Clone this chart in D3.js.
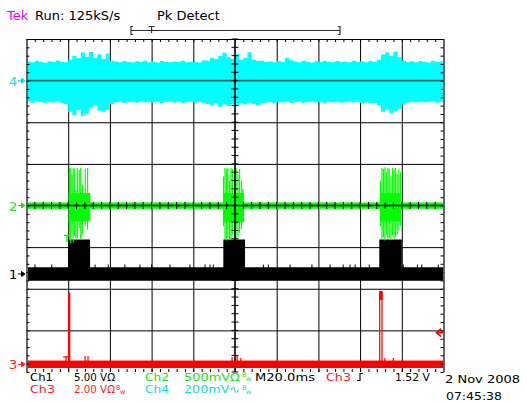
<!DOCTYPE html>
<html>
<head>
<meta charset="utf-8">
<script src="https://cdn.jsdelivr.net/npm/d3@7/dist/d3.min.js"></script>
<style>
  html, body { margin: 0; padding: 0; background: #fff; }
  svg { display: block; }
  text { font-family: "DejaVu Sans", sans-serif; }
</style>
</head>
<body>
<svg id="scope" width="527" height="402"></svg>
<script>
// ---------------- acquisition / time base ----------------
const timeMajor = [0, 20, 40, 60, 80, 100, 120, 140, 160, 180, 200];   // ms, 20 ms/div
const divMajor = [-4, -3, -2, -1, 0, 1, 2, 3, 4];                        // vertical divisions

// ---------------- Channel 4 (200 mV/div): peak-detect envelope, one pair per 2 ms, in mV ----
const ch4Times = d3.range(0, 201, 2);
const ch4Max = [
  92, 88, 95, 90, 86, 93, 89, 97, 90, 88,
  100, 120, 108, 135, 115, 138, 110, 125, 104, 130,
  96, 92, 88, 94, 90, 87, 93, 89, 96, 88,
  91, 87, 94, 90, 88, 92, 89, 95, 88, 91,
  90, 87, 98, 95, 110, 104, 118, 134, 112, 104,
  128, 100, 110, 136, 100, 95, 96, 90, 92, 88,
  94, 89, 110, 98, 92, 88, 95, 90, 87, 93,
  89, 96, 90, 88, 94, 89, 92, 88, 95, 90,
  92, 88, 95, 90, 100, 125, 135, 118, 138, 112,
  96, 90, 93, 88, 94, 90, 87, 95, 89, 92,
  90
];
const ch4Min = [
  -100, -106, -98, -104, -108, -101, -105, -99, -107, -112,
  -150, -165, -140, -170, -155, -130, -120, -145, -150, -140,
  -112, -104, -100, -108, -103, -101, -106, -99, -104, -102,
  -105, -100, -107, -102, -99, -105, -101, -108, -103, -100,
  -106, -102, -108, -112, -118, -110, -125, -115, -122, -112,
  -120, -108, -115, -106, -112, -118, -110, -106, -104, -110,
  -101, -105, -99, -107, -102, -100, -106, -102, -99, -105,
  -102, -108, -101, -104, -100, -106, -102, -99, -105, -102,
  -107, -104, -110, -108, -118, -150, -140, -155, -148, -135,
  -115, -106, -101, -105, -100, -104, -102, -99, -106, -102,
  -104
];

// ---------------- Channel 1 (5 V/div): envelope breakpoints (ms, V) ----
const ch1Times = [0, 20.0, 30.5, 94.4, 104.8, 169.2, 180.0, 200];
const ch1Max   = [0.8, 4.14, 0.8, 4.14, 0.8, 4.14, 0.8, 0.8];
const ch1Min   = [-0.8, -0.8, -0.8, -0.8, -0.8, -0.8, -0.8, -0.8];
// isolated noise peaks above the baseline (ms)
const ch1PeakTimes = [4.1, 12.1, 32.9, 39.2, 47.2, 54.4, 60.0, 68.8, 78.4, 85.6, 88.0, 89.6,
  113.6, 116.0, 126.4, 136.9, 145.6, 151.9, 155.2, 157.6, 164.4, 180.7, 187.5, 189.6, 197.5];
const ch1PeakLevel = 1.14;

// ---------------- Channel 2 (500 mV/div): baseline envelope + burst spikes ----
const ch2Times = [0, 20.2, 30.6, 94.3, 104.3, 169.5, 179.8, 200];
const ch2Max   = [0.035, 0.15, 0.035, 0.15, 0.035, 0.15, 0.035, 0.035];
const ch2Min   = [-0.04, -0.19, -0.04, -0.2, -0.04, -0.19, -0.04, -0.04];
const ch2SpikeTimes = [
  20.6, 21.2, 21.8, 22.4, 23.1, 23.7, 24.4, 25.3, 26.0, 26.9, 28.2, 29.3, 30.2,
  94.5, 95.2, 95.9, 96.6, 97.4, 98.1, 98.8, 99.8, 100.5, 101.4, 102.2, 103.1, 103.8,
  169.8, 170.5, 171.2, 171.9, 172.6, 173.3, 174.0, 174.8, 175.5, 176.3, 177.0, 177.8, 178.6, 179.4
];
const ch2SpikeMax = [
  0.45, 0.45, 0.37, 0.45, 0.44, 0.19, 0.45, 0.43, 0.45, 0.25, 0.44, 0.45, 0.13,
  0.35, 0.45, 0.44, 0.45, 0.30, 0.45, 0.44, 0.43, 0.45, 0.38, 0.44, 0.30, 0.20,
  0.30, 0.45, 0.44, 0.46, 0.40, 0.45, 0.44, 0.35, 0.45, 0.43, 0.45, 0.38, 0.44, 0.40
];
const ch2SpikeMin = [
  -0.41, -0.45, -0.32, -0.44, -0.37, -0.41, -0.39, -0.27, -0.41, -0.35, -0.25, -0.29, -0.17,
  -0.25, -0.40, -0.42, -0.38, -0.41, -0.40, -0.35, -0.42, -0.40, -0.38, -0.33, -0.28, -0.20,
  -0.25, -0.40, -0.38, -0.42, -0.35, -0.40, -0.39, -0.41, -0.36, -0.40, -0.38, -0.35, -0.30, -0.25
];

// ---------------- Channel 3 (2 V/div): baseline band + pulses ----
const ch3BandMax = 0.18;
const ch3BandMin = -0.18;
const ch3PulseStart = [19.9, 169.1, 170.2, 169.1];
const ch3PulseEnd   = [21.0, 169.7, 170.8, 170.8];
const ch3PulseTop   = [3.44, 3.52, 3.48, 3.52];
const ch3PulseBase  = [0, 0, 0, 3.09];
const ch3BlipTimes  = [28.1, 29.5, 98.6, 101.0, 102.8, 171.9, 175.9];
const ch3BlipLevel  = [0.4, 0.4, 0.35, 0.4, 0.3, 0.3, 0.3];
const ch3TriggerLevel = 1.52;   // V

// ---------------- readout text ----------------
const headerText = ["Tek", "Run: 125kS/s", "Pk Detect"];
const dateText = ["2 Nov 2008", "07:45:38"];

// ---------------- layout ----------------
const svg = d3.select("#scope");
const gx0 = 26.5, gx1 = 443.5, gy0 = 39, gy1 = 372;
const x = d3.scaleLinear().domain([0, 200]).range([gx0, gx1]);
const yDiv = d3.scaleLinear().domain([-4, 4]).range([gy1, gy0]);
const chanScale = (offsetDiv, perDiv) =>
  d3.scaleLinear().domain([(-4 - offsetDiv) * perDiv, (4 - offsetDiv) * perDiv]).range([gy1, gy0]);

const y1 = chanScale(-1.646, 5);      // V
const y2 = chanScale(0, 0.5);         // V
const y3 = chanScale(-3.815, 2);      // V
const y4 = chanScale(3, 200);         // mV

const COL = { c1: "#000000", c2: "#00ff00", c3: "#ff0000", c4: "#00ffff", tek: "#ee00ee" };
const TXT = { c2: "#22dd22", c3: "#ff1a1a", c4: "#11d8d8" };

svg.append("rect").attr("width", 527).attr("height", 402).attr("fill", "#fff");

// ---------------- graticule (under the traces) ----------------
const grid = svg.append("g");
grid.append("g")
  .attr("transform", `translate(0,${gy0})`)
  .call(d3.axisTop(x).tickValues(timeMajor.filter(t => t > 0 && t < 200 && t !== 100))
    .tickSize(-(gy1 - gy0)).tickSizeOuter(0).tickFormat(""))
  .call(g => g.select(".domain").remove())
  .call(g => g.selectAll("line").attr("stroke", "#000").attr("stroke-width", 1));
grid.append("g")
  .attr("transform", `translate(${gx0},0)`)
  .call(d3.axisLeft(yDiv).tickValues(divMajor.filter(d => d !== 0 && Math.abs(d) !== 4))
    .tickSize(-(gx1 - gx0)).tickSizeOuter(0).tickFormat(""))
  .call(g => g.select(".domain").remove())
  .call(g => g.selectAll("line").attr("stroke", "#000").attr("stroke-width", 1));

// ---------------- area helper ----------------
function envelope(times, hi, lo, ys, color) {
  const data = times.map((t, i) => ({ t, hi: hi[i], lo: lo[i] }));
  svg.append("path")
    .datum(data)
    .attr("fill", color)
    .attr("d", d3.area().curve(d3.curveStepAfter)
      .x(d => x(d.t)).y0(d => ys(d.lo)).y1(d => ys(d.hi)));
}

// Channel 4
envelope(ch4Times, ch4Max, ch4Min, y4, COL.c4);
svg.append("line")
  .attr("x1", x(0)).attr("x2", x(200)).attr("y1", y4(0)).attr("y2", y4(0))
  .attr("stroke", "#006868").attr("stroke-width", 1.6);

// Channel 1
envelope(ch1Times, ch1Max, ch1Min, y1, COL.c1);
svg.append("g").selectAll("line").data(ch1PeakTimes).join("line")
  .attr("x1", d => x(d)).attr("x2", d => x(d))
  .attr("y1", y1(ch1PeakLevel)).attr("y2", y1(0.5))
  .attr("stroke", COL.c1).attr("stroke-width", 1);

// Channel 2
envelope(ch2Times, ch2Max, ch2Min, y2, COL.c2);
svg.append("g").selectAll("line").data(ch2SpikeTimes).join("line")
  .attr("x1", d => x(d)).attr("x2", d => x(d))
  .attr("y1", (d, i) => y2(ch2SpikeMax[i])).attr("y2", (d, i) => y2(ch2SpikeMin[i]))
  .attr("stroke", COL.c2).attr("stroke-width", 1.2);

// ---------------- centre cross with minor ticks ----------------
const cross = svg.append("g");
cross.append("line").attr("x1", gx0).attr("x2", gx1).attr("y1", yDiv(0)).attr("y2", yDiv(0))
  .attr("stroke", "#000").attr("stroke-width", 1.6);
cross.append("line").attr("x1", x(100)).attr("x2", x(100)).attr("y1", gy0).attr("y2", gy1)
  .attr("stroke", "#000").attr("stroke-width", 1.6);
const minorT = d3.range(0, 201, 4);
const minorD = d3.range(-4, 4.01, 0.2);
cross.append("g").selectAll("line").data(minorT).join("line")
  .attr("x1", d => x(d)).attr("x2", d => x(d))
  .attr("y1", yDiv(0) - 3.5).attr("y2", yDiv(0) + 3.5)
  .attr("stroke", "#000").attr("stroke-width", 1);
cross.append("g").selectAll("line").data(minorD).join("line")
  .attr("y1", d => yDiv(d)).attr("y2", d => yDiv(d))
  .attr("x1", x(100) - 3.5).attr("x2", x(100) + 3.5)
  .attr("stroke", "#000").attr("stroke-width", 1);

// Channel 3
svg.append("rect")
  .attr("x", x(0)).attr("width", x(200) - x(0))
  .attr("y", y3(ch3BandMax)).attr("height", y3(ch3BandMin) - y3(ch3BandMax))
  .attr("fill", COL.c3);
svg.append("g").selectAll("rect").data(ch3PulseStart).join("rect")
  .attr("x", d => x(d)).attr("width", (d, i) => x(ch3PulseEnd[i]) - x(d))
  .attr("y", (d, i) => y3(ch3PulseTop[i]))
  .attr("height", (d, i) => y3(ch3PulseBase[i]) - y3(ch3PulseTop[i]))
  .attr("fill", COL.c3);
svg.append("g").selectAll("line").data(ch3BlipTimes).join("line")
  .attr("x1", d => x(d)).attr("x2", d => x(d))
  .attr("y1", (d, i) => y3(ch3BlipLevel[i])).attr("y2", y3(0))
  .attr("stroke", COL.c3).attr("stroke-width", 1.2);

// trigger point marks on channels 2 and 3
function tMark(t, yv, color) {
  const px = x(t);
  svg.append("path")
    .attr("d", `M${px - 3},${yv} H${px + 3} M${px},${yv} V${yv + 7}`)
    .attr("stroke", color).attr("stroke-width", 1.3).attr("fill", "none");
}
tMark(19.4, y2(-0.36), COL.c2);
tMark(19.0, y3(0.36), COL.c3);

// ---------------- graticule edges ----------------
const edge = svg.append("g");
edge.append("g").attr("transform", `translate(0,${gy0})`)
  .call(d3.axisBottom(x).tickValues(minorT).tickSize(3).tickSizeOuter(0).tickFormat(""));
edge.append("g").attr("transform", `translate(0,${gy1})`)
  .call(d3.axisTop(x).tickValues(minorT).tickSize(3).tickSizeOuter(0).tickFormat(""))
  .call(g => g.select(".domain").remove());
edge.append("g").attr("transform", `translate(${gx0},0)`)
  .call(d3.axisRight(yDiv).tickValues(minorD).tickSize(3).tickSizeOuter(0).tickFormat(""))
  .call(g => g.select(".domain").attr("stroke", "#666").attr("stroke-width", 2));
edge.append("g").attr("transform", `translate(${gx1},0)`)
  .call(d3.axisLeft(yDiv).tickValues(minorD).tickSize(3).tickSizeOuter(0).tickFormat(""))
  .call(g => g.select(".domain").attr("stroke", "#666").attr("stroke-width", 2));
edge.selectAll(".tick line").attr("stroke", "#000");
edge.selectAll(".domain").filter(function () { return !this.getAttribute("stroke-width"); })
  .attr("stroke", "#000");

// ---------------- channel ground markers ----------------
const markers = [
  { label: "4", y: y4(0), color: TXT.c4 },
  { label: "2", y: y2(0), color: TXT.c2 },
  { label: "1", y: y1(0), color: "#000" },
  { label: "3", y: y3(0), color: TXT.c3 }
];
const mk = svg.append("g").selectAll("g").data(markers).join("g");
mk.append("text").attr("x", 9).attr("y", d => d.y + 5).attr("font-size", 13)
  .attr("fill", d => d.color).text(d => d.label);
mk.append("path")
  .attr("d", d => `M18,${d.y} H22 M21.5,${d.y - 2.5} L25,${d.y} L21.5,${d.y + 2.5} Z`)
  .attr("stroke", d => d.color).attr("fill", d => d.color).attr("stroke-width", 1);

// trigger level marker (ch3)
const ty = y3(ch3TriggerLevel);
svg.append("path")
  .attr("d", `M441,${ty - 4} L436.5,${ty} L441,${ty + 4} M438,${ty} H443`)
  .attr("stroke", COL.c3).attr("stroke-width", 1.6).attr("fill", "none");

// ---------------- header ----------------
svg.append("text").attr("x", 7).attr("y", 20).attr("font-size", 13).attr("fill", COL.tek).text(headerText[0]);
svg.append("text").attr("x", 35).attr("y", 20).attr("font-size", 13).attr("fill", "#000").text(headerText[1]);
svg.append("text").attr("x", 157).attr("y", 20).attr("font-size", 13).attr("fill", "#000").text(headerText[2]);
// record view bracket with trigger position
const rv = svg.append("g").attr("stroke", "#333").attr("fill", "none").attr("stroke-width", 1.2);
rv.append("path").attr("d", "M133,26.5 H131 V34.5 H133 M131,30.5 H340 M338,26.5 H340 V34.5 H338");
rv.append("path").attr("d", `M${x(60) - 3},26.5 H${x(60) + 3} M${x(60)},26.5 V33`);

// ---------------- readout (wide display font: glyphs stretched to fixed widths) ----------------
const ro = svg.append("g").attr("font-size", 10.5);
function readout(xp, yp, str, color, width) {
  ro.append("text").attr("x", xp).attr("y", yp).attr("fill", color)
    .attr("textLength", width).attr("lengthAdjust", "spacingAndGlyphs").text(str);
}
function bwMark(xp, yp, color) {
  ro.append("text").attr("x", xp).attr("y", yp - 3.5).attr("font-size", 6.5).attr("fill", color).text("B");
  ro.append("text").attr("x", xp + 4).attr("y", yp + 0.5).attr("font-size", 6.5).attr("fill", color).text("w");
}
const r1 = 380.5, r2 = 393;
readout(30, r1, "Ch1", "#000", 23);
readout(74, r1, "5.00 VΩ", "#000", 41);
readout(145, r1, "Ch2", TXT.c2, 24);
readout(184, r1, "500mVΩ", TXT.c2, 56);
bwMark(242, r1, TXT.c2);
readout(255, r1, "M20.0ms", "#000", 60);
readout(326, r1, "Ch3", TXT.c3, 25);
svg.append("path").attr("d", "M357,380.5 H360 V373.5 H363").attr("stroke", "#000").attr("fill", "none").attr("stroke-width", 1.1);
readout(395, r1, "1.52 V", "#000", 35);
readout(30, r2, "Ch3", TXT.c3, 25);
readout(74, r2, "2.00 VΩ", TXT.c3, 41);
bwMark(116, r2, TXT.c3);
readout(145, r2, "Ch4", TXT.c4, 24);
readout(184, r2, "200mV∿", TXT.c4, 56);
bwMark(242, r2, TXT.c4);
readout(445, 383, dateText[0], "#000", 75);
readout(446, 400, dateText[1], "#000", 56);
</script>
</body>
</html>
